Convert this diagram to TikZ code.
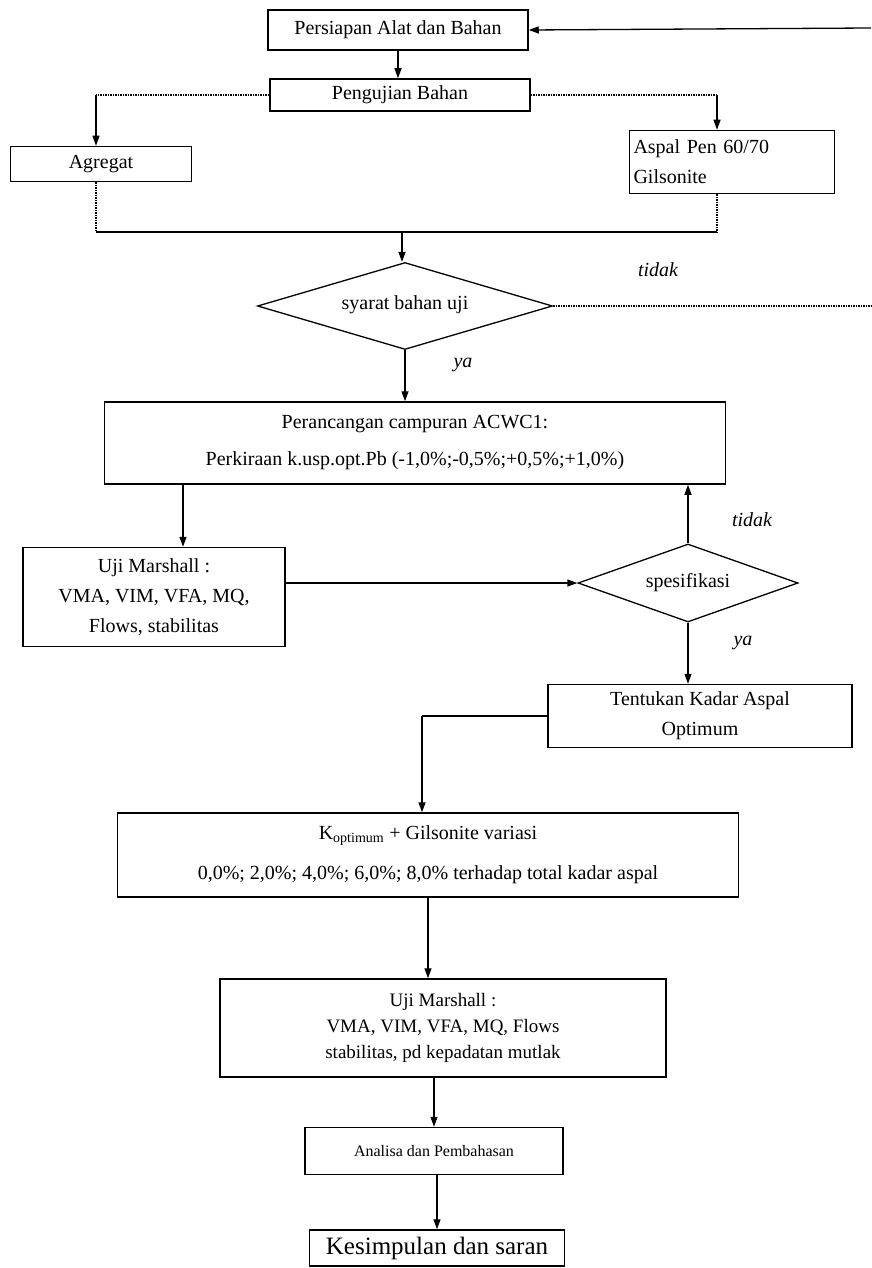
\documentclass[tikz,border=0pt]{standalone}
\usepackage{fontspec}
\setmainfont{Liberation Serif}
\usetikzlibrary{arrows.meta,shapes.geometric}
\begin{document}
\begin{tikzpicture}[x=1pt,y=-1pt,
  box/.style={draw,line width=1.5pt,inner sep=0pt,align=center,font=\fontsize{20}{30}\selectfont},
  dec/.style={draw,diamond,line width=1.3pt,inner sep=0pt,aspect=3,font=\fontsize{20}{24}\selectfont},
  line/.style={line width=1.3pt},
  dline/.style={line width=1.5pt,densely dotted},
  arr/.style={line width=1.3pt,-{Triangle[length=10pt,width=7pt]}},
  lbl/.style={font=\fontsize{20}{24}\selectfont\itshape}]
\useasboundingbox (0,0) rectangle (871,1268);

% nodes
\node[box,minimum width=260,minimum height=40] (persiapan) at (398,30) {Persiapan Alat dan Bahan};
\node[box,minimum width=260,minimum height=32] (pengujian) at (400,95) {Pengujian Bahan};
\node[box,minimum width=181,minimum height=35] (agregat) at (101,164) {Agregat};
\node[box,minimum width=205,minimum height=63,align=left,text width=197,inner sep=4pt] (aspal) at (732,162) {Aspal Pen 60/70\\Gilsonite};
\node[dec,minimum width=295,minimum height=87] (syarat) at (405,306) {\raisebox{6pt}{syarat bahan uji}};
\node[box,minimum width=621,minimum height=82] (perancangan) at (415,443) {Perancangan campuran ACWC1:\\[7pt]Perkiraan k.usp.opt.Pb (-1,0\%;-0,5\%;+0,5\%;+1,0\%)};
\node[box,minimum width=262,minimum height=99] (uji1) at (154,597) {Uji Marshall :\\VMA, VIM, VFA, MQ,\\Flows, stabilitas};
\node[dec,minimum width=220,minimum height=78] (spesifikasi) at (688,583) {spesifikasi};
\node[box,minimum width=304,minimum height=63] (tentukan) at (700,716) {\fontsize{20}{32}\selectfont Tentukan Kadar Aspal\\Optimum};
\node[box,minimum width=621,minimum height=84] (koptimum) at (428,855) {K\textsubscript{optimum} + Gilsonite variasi\\[10pt]0,0\%; 2,0\%; 4,0\%; 6,0\%; 8,0\% terhadap total kadar aspal};
\node[box,minimum width=446,minimum height=98,font=\fontsize{19}{26}\selectfont] (uji2) at (443,1028) {Uji Marshall :\\VMA, VIM, VFA, MQ, Flows\\stabilitas, pd kepadatan mutlak};
\node[box,minimum width=258,minimum height=47,font=\fontsize{16}{20}\selectfont] (analisa) at (434,1151) {Analisa dan Pembahasan};
\node[box,minimum width=255,minimum height=36,font=\fontsize{25}{30}\selectfont] (kesimpulan) at (437,1248) {Kesimpulan dan saran};

% labels
\node[lbl] (t1) at (658,270) {tidak};
\node[lbl] (y1) at (463,365) {ya};
\node[lbl] (t2) at (752,520) {tidak};
\node[lbl] (y2) at (743,643) {ya};

% helper coordinates
\coordinate (ag) at (96,0);
\coordinate (as) at (717,0);
\coordinate (mg) at (402,232);
\coordinate (edge) at (871,0);
\coordinate (eb) at (871,28);
\coordinate (c1) at (183,0);
\coordinate (c2) at (422,0);

% connectors
\draw[arr] (persiapan.south) -- (persiapan.south |- pengujian.north);
\draw[dline] (pengujian.west) -- (ag |- pengujian.west);
\draw[arr] (ag |- pengujian.west) -- (ag |- agregat.north);
\draw[dline] (pengujian.east) -- (as |- pengujian.east);
\draw[arr] (as |- pengujian.east) -- (as |- aspal.north);
\draw[dline] (ag |- agregat.south) -- (ag |- mg);
\draw[dline] (as |- aspal.south) -- (as |- mg);
\draw[line] (ag |- mg) -- (as |- mg);
\draw[arr] (mg) -- (mg |- syarat.north);
\draw[dline] (syarat.east) -- (edge |- syarat.east);
\draw[arr] (eb) -- (persiapan.east);
\draw[arr] (syarat.south) -- (syarat.south |- perancangan.north);
\draw[arr] (c1 |- perancangan.south) -- (c1 |- uji1.north);
\draw[arr] (uji1.east |- spesifikasi.west) -- (spesifikasi.west);
\draw[arr] (spesifikasi.north) -- (spesifikasi.north |- perancangan.south);
\draw[arr] (spesifikasi.south) -- (spesifikasi.south |- tentukan.north);
\draw[line] (tentukan.west) -- (c2 |- tentukan.west);
\draw[arr] (c2 |- tentukan.west) -- (c2 |- koptimum.north);
\draw[arr] (koptimum.south) -- (koptimum.south |- uji2.north);
\draw[arr] (analisa.north |- uji2.south) -- (analisa.north);
\draw[arr] (kesimpulan.north |- analisa.south) -- (kesimpulan.north);
\end{tikzpicture}
\end{document}
